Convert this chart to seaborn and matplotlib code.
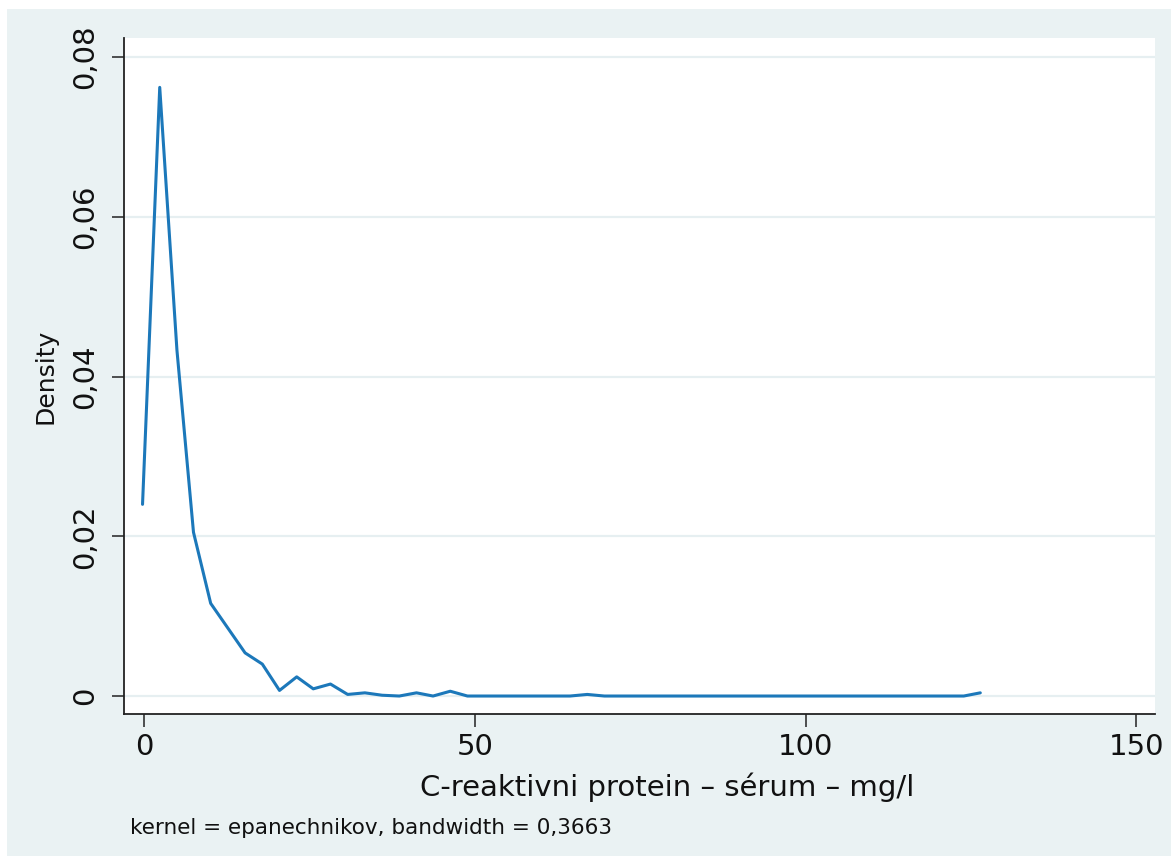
import matplotlib
matplotlib.use("Agg")
import matplotlib.pyplot as plt
import seaborn as sns
import pandas as pd
from matplotlib.patches import Rectangle

# Kernel density estimate evaluation grid (mg/l) and density values
crp_mgl = [-0.2, 2.4, 5.0, 7.5, 10.1, 12.7, 15.3, 17.9, 20.5, 23.1,
           25.6, 28.2, 30.8, 33.4, 36.0, 38.6, 41.2, 43.7, 46.3, 48.9,
           51.5, 54.1, 56.7, 59.3, 61.8, 64.4, 67.0, 69.6, 72.2, 74.8,
           77.4, 80.0, 82.5, 85.1, 87.7, 90.3, 92.9, 95.5, 98.1, 100.6,
           103.2, 105.8, 108.4, 111.0, 113.6, 116.2, 118.7, 121.3, 123.9, 126.4]
density = [0.0240, 0.0762, 0.0433, 0.0205, 0.0116, 0.0085, 0.0054, 0.0040, 0.0007, 0.0024,
           0.0009, 0.0015, 0.0002, 0.0004, 0.0001, 0.0000, 0.0004, 0.0000, 0.0006, 0.0000,
           0.0000, 0.0000, 0.0000, 0.0000, 0.0000, 0.0000, 0.0002, 0.0000, 0.0000, 0.0000,
           0.0000, 0.0000, 0.0000, 0.0000, 0.0000, 0.0000, 0.0000, 0.0000, 0.0000, 0.0000,
           0.0000, 0.0000, 0.0000, 0.0000, 0.0000, 0.0000, 0.0000, 0.0000, 0.0000, 0.0004]

x_ticks = [0, 50, 100, 150]
y_ticks = [0, 0.02, 0.04, 0.06, 0.08]
y_tick_labels = ["0", "0,02", "0,04", "0,06", "0,08"]
x_label = "C-reaktivni protein – sérum – mg/l"
y_label = "Density"
note = "kernel = epanechnikov, bandwidth = 0,3663"

df = pd.DataFrame({"crp": crp_mgl, "density": density})

sns.set_theme(style="white")
plt.rcParams["font.family"] = ["DejaVu Sans"]

W, H = 1171, 856
fig = plt.figure(figsize=(W / 100, H / 100), dpi=100, facecolor="white")
bg = "#EAF2F3"
fig.patches.append(Rectangle((7 / W, 0), (W - 7) / W, (H - 9) / H,
                             transform=fig.transFigure, facecolor=bg,
                             edgecolor="none", zorder=-10))

ax = fig.add_axes([124 / W, 1 - 714 / H, (1155 - 124) / W, (714 - 38) / H])
ax.set_facecolor("white")

sns.lineplot(data=df, x="crp", y="density", ax=ax, color="#1c78ba",
             linewidth=2.2, estimator=None, sort=False)

ax.set_xlim(-3.0, 152.8)
ax.set_ylim(-0.00225, 0.08238)
ax.set_xticks(x_ticks)
ax.set_xticklabels([str(t) for t in x_ticks], fontsize=21, color="#111111")
ax.set_yticks(y_ticks)
ax.set_yticklabels(y_tick_labels, fontsize=21, rotation=90, color="#111111")
for ytl in ax.get_yticklabels():
    ytl.set_rotation_mode("anchor")
    ytl.set_ha("center")
    ytl.set_va("bottom")

ax.grid(axis="y", color="#E6EFF1", linewidth=1.6)
ax.grid(axis="x", visible=False)
ax.set_axisbelow(True)

for side in ["top", "right"]:
    ax.spines[side].set_visible(False)
for side in ["left", "bottom"]:
    ax.spines[side].set_color("#222222")
    ax.spines[side].set_linewidth(1.3)

ax.tick_params(axis="both", which="major", direction="out", length=9,
               width=1.1, color="#222222", left=True, bottom=True)
ax.tick_params(axis="y", pad=9)
ax.tick_params(axis="x", pad=5)

ax.set_xlabel(x_label, fontsize=21, color="#111111")
ax.xaxis.set_label_coords(0.527, -0.086)
ax.set_ylabel(y_label, fontsize=18, color="#111111", labelpad=10)

fig.text(130 / W, 1 - 828 / H, note, fontsize=15.5, color="#111111",
         ha="left", va="center")

fig.savefig("out.png", dpi=100, facecolor=fig.get_facecolor())
